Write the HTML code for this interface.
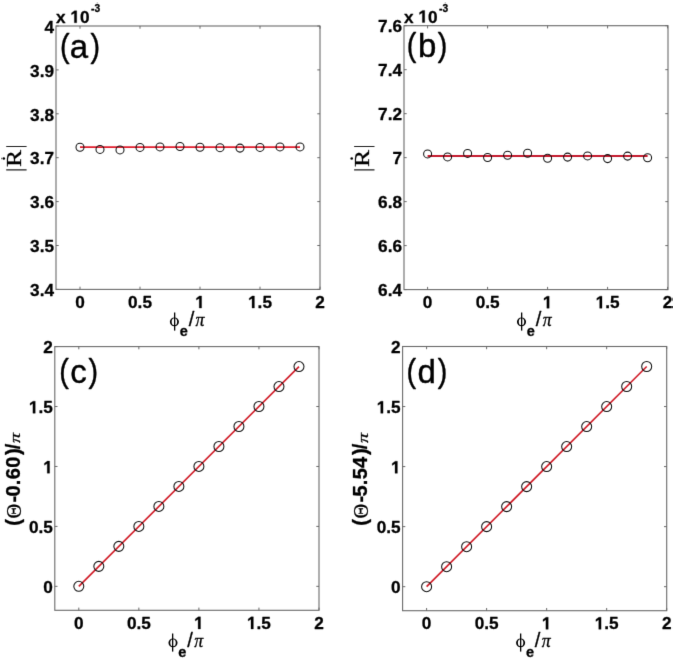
<!DOCTYPE html>
<html><head><meta charset="utf-8"><style>
html,body{margin:0;padding:0;background:#fff;}
svg{display:block;will-change:transform;}
text{fill:#000;stroke:#000;stroke-width:0.3px;stroke-linejoin:round;}
path.g{stroke:#000;stroke-width:0.3px;vector-effect:non-scaling-stroke;}
.t{font-family:"Liberation Sans",sans-serif;font-size:17.6px;font-weight:bold;}
.sup{font-size:11px;font-weight:bold;}
.pl{stroke-width:0.4px;}
</style></head><body>
<svg width="675" height="662" viewBox="0 0 675 662">
<defs><filter id="bl" x="0" y="0" width="100%" height="100%" color-interpolation-filters="sRGB"><feConvolveMatrix order="3" kernelMatrix="0 1 0 1 8 1 0 1 0" divisor="12" edgeMode="duplicate"/></filter></defs>
<rect width="675" height="662" fill="#fff"/>
<g filter="url(#bl)">
<rect x="56" y="26" width="264" height="263.4" fill="none" stroke="#6a6a6a" stroke-width="1.1"/>
<path d="M80 289.4v-2.7M80 26v2.7M140 289.4v-2.7M140 26v2.7M200 289.4v-2.7M200 26v2.7M260 289.4v-2.7M260 26v2.7M320 289.4v-2.7M320 26v2.7M56 289.4h2.7M320 289.4h-2.7M56 245.5h2.7M320 245.5h-2.7M56 201.6h2.7M320 201.6h-2.7M56 157.7h2.7M320 157.7h-2.7M56 113.8h2.7M320 113.8h-2.7M56 69.9h2.7M320 69.9h-2.7M56 26h2.7M320 26h-2.7" stroke="#6a6a6a" stroke-width="1" fill="none"/>
<line x1="80" y1="147.1" x2="300" y2="147.1" stroke="#e01c2c" stroke-width="1.8"/>
<circle cx="80" cy="147.2" r="4.0" fill="none" stroke="#111" stroke-width="1.05"/>
<circle cx="100" cy="149.4" r="4.0" fill="none" stroke="#111" stroke-width="1.05"/>
<circle cx="120" cy="149.9" r="4.0" fill="none" stroke="#111" stroke-width="1.05"/>
<circle cx="140" cy="147.4" r="4.0" fill="none" stroke="#111" stroke-width="1.05"/>
<circle cx="160" cy="146.9" r="4.0" fill="none" stroke="#111" stroke-width="1.05"/>
<circle cx="180" cy="146.5" r="4.0" fill="none" stroke="#111" stroke-width="1.05"/>
<circle cx="200" cy="147.3" r="4.0" fill="none" stroke="#111" stroke-width="1.05"/>
<circle cx="220" cy="147.65" r="4.0" fill="none" stroke="#111" stroke-width="1.05"/>
<circle cx="240" cy="148.1" r="4.0" fill="none" stroke="#111" stroke-width="1.05"/>
<circle cx="260" cy="147.4" r="4.0" fill="none" stroke="#111" stroke-width="1.05"/>
<circle cx="280" cy="146.9" r="4.0" fill="none" stroke="#111" stroke-width="1.05"/>
<circle cx="300" cy="146.9" r="4.0" fill="none" stroke="#111" stroke-width="1.05"/>
<text x="75.22" y="308.05" style="font-family:Liberation Sans;font-size:17.2px;font-weight:bold;">0</text>
<text x="128.04 137.61 142.39" y="308.05" style="font-family:Liberation Sans;font-size:17.2px;font-weight:bold;">0.5</text>
<path class="g" d="M478 0V1150L140 945V1180L500 1440H759V0Z" transform="translate(195.22,308.05) scale(0.00840,-0.00840)"/>
<text x="257.61 262.39" y="308.05" style="font-family:Liberation Sans;font-size:17.2px;font-weight:bold;">.5</text><path class="g" d="M478 0V1150L140 945V1180L500 1440H759V0Z" transform="translate(248.04,308.05) scale(0.00840,-0.00840)"/>
<text x="315.22" y="308.05" style="font-family:Liberation Sans;font-size:17.2px;font-weight:bold;">2</text>
<text x="30.09 39.66 44.43" y="296.15" style="font-family:Liberation Sans;font-size:17.2px;font-weight:bold;">3.4</text>
<text x="30.09 39.66 44.43" y="252.25" style="font-family:Liberation Sans;font-size:17.2px;font-weight:bold;">3.5</text>
<text x="30.09 39.66 44.43" y="208.35" style="font-family:Liberation Sans;font-size:17.2px;font-weight:bold;">3.6</text>
<text x="30.09 39.66 44.43" y="164.45" style="font-family:Liberation Sans;font-size:17.2px;font-weight:bold;">3.7</text>
<text x="30.09 39.66 44.43" y="120.55" style="font-family:Liberation Sans;font-size:17.2px;font-weight:bold;">3.8</text>
<text x="30.09 39.66 44.43" y="76.65" style="font-family:Liberation Sans;font-size:17.2px;font-weight:bold;">3.9</text>
<text x="44.43" y="32.75" style="font-family:Liberation Sans;font-size:17.2px;font-weight:bold;">4</text>
<text transform="translate(59.96,56.99) scale(0.87,1.0)" style="font-family:Liberation Sans;font-size:33px;" class="pl">(</text>
<text x="69.72" y="57.79" style="font-family:Liberation Sans;font-size:33px;" class="pl">a</text>
<text transform="translate(90.48,56.99) scale(0.87,1.0)" style="font-family:Liberation Sans;font-size:33px;" class="pl">)</text>
<path d="M169.85 321.85a4.55 4.45 0 1 0 9.1 0a4.55 4.45 0 1 0 -9.1 0ZM171.65 321.85a2.75 3.5 0 1 1 5.5 0a2.75 3.5 0 1 1 -5.5 0Z" fill="#000" fill-rule="evenodd"/>
<rect x="174" y="312.5" width="1.3" height="18.1" fill="#000"/>
<text x="179.73" y="335.9" style="font-family:Liberation Sans;font-size:14.5px;font-weight:bold;">e</text>
<text x="188.67" y="325.95" style="font-family:Liberation Sans;font-size:20px;">/</text>
<text x="195.59" y="325.9" style="font-family:Liberation Serif;font-size:17.8px;font-style:italic;">π</text>
<text x="56 79.91" y="22.8" style="font-family:Liberation Sans;font-size:17.2px;font-weight:bold;">x0</text><path class="g" d="M478 0V1150L140 945V1180L500 1440H759V0Z" transform="translate(70.34,22.8) scale(0.00840,-0.00840)"/>
<text x="91.1 94.5" y="12" style="font-family:Liberation Sans;font-size:10.2px;font-weight:bold;">-3</text>
<rect x="404" y="25.7" width="264" height="263.9" fill="none" stroke="#6a6a6a" stroke-width="1.1"/>
<path d="M427.6 289.6v-2.7M427.6 25.7v2.7M487.6 289.6v-2.7M487.6 25.7v2.7M547.6 289.6v-2.7M547.6 25.7v2.7M607.6 289.6v-2.7M607.6 25.7v2.7M667.6 289.6v-2.7M667.6 25.7v2.7M404 289.6h2.7M668 289.6h-2.7M404 245.62h2.7M668 245.62h-2.7M404 201.63h2.7M668 201.63h-2.7M404 157.65h2.7M668 157.65h-2.7M404 113.67h2.7M668 113.67h-2.7M404 69.68h2.7M668 69.68h-2.7M404 25.7h2.7M668 25.7h-2.7" stroke="#6a6a6a" stroke-width="1" fill="none"/>
<line x1="427.6" y1="156" x2="647.6" y2="156" stroke="#c41a2e" stroke-width="1.8"/>
<circle cx="427.6" cy="153.9" r="4.0" fill="none" stroke="#111" stroke-width="1.05"/>
<circle cx="447.6" cy="156.9" r="4.0" fill="none" stroke="#111" stroke-width="1.05"/>
<circle cx="467.6" cy="153.4" r="4.0" fill="none" stroke="#111" stroke-width="1.05"/>
<circle cx="487.6" cy="157.5" r="4.0" fill="none" stroke="#111" stroke-width="1.05"/>
<circle cx="507.6" cy="155.3" r="4.0" fill="none" stroke="#111" stroke-width="1.05"/>
<circle cx="527.6" cy="153.2" r="4.0" fill="none" stroke="#111" stroke-width="1.05"/>
<circle cx="547.6" cy="158.2" r="4.0" fill="none" stroke="#111" stroke-width="1.05"/>
<circle cx="567.6" cy="157.1" r="4.0" fill="none" stroke="#111" stroke-width="1.05"/>
<circle cx="587.6" cy="155.9" r="4.0" fill="none" stroke="#111" stroke-width="1.05"/>
<circle cx="607.6" cy="158.6" r="4.0" fill="none" stroke="#111" stroke-width="1.05"/>
<circle cx="627.6" cy="156.1" r="4.0" fill="none" stroke="#111" stroke-width="1.05"/>
<circle cx="647.6" cy="157.7" r="4.0" fill="none" stroke="#111" stroke-width="1.05"/>
<text x="422.82" y="308.25" style="font-family:Liberation Sans;font-size:17.2px;font-weight:bold;">0</text>
<text x="475.64 485.21 489.99" y="308.25" style="font-family:Liberation Sans;font-size:17.2px;font-weight:bold;">0.5</text>
<path class="g" d="M478 0V1150L140 945V1180L500 1440H759V0Z" transform="translate(542.82,308.25) scale(0.00840,-0.00840)"/>
<text x="605.21 609.99" y="308.25" style="font-family:Liberation Sans;font-size:17.2px;font-weight:bold;">.5</text><path class="g" d="M478 0V1150L140 945V1180L500 1440H759V0Z" transform="translate(595.64,308.25) scale(0.00840,-0.00840)"/>
<text x="662.82" y="308.25" style="font-family:Liberation Sans;font-size:17.2px;font-weight:bold;">2</text>
<text x="378.09 387.66 392.43" y="296.35" style="font-family:Liberation Sans;font-size:17.2px;font-weight:bold;">6.4</text>
<text x="378.09 387.66 392.43" y="252.37" style="font-family:Liberation Sans;font-size:17.2px;font-weight:bold;">6.6</text>
<text x="378.09 387.66 392.43" y="208.38" style="font-family:Liberation Sans;font-size:17.2px;font-weight:bold;">6.8</text>
<text x="392.43" y="164.4" style="font-family:Liberation Sans;font-size:17.2px;font-weight:bold;">7</text>
<text x="378.09 387.66 392.43" y="120.42" style="font-family:Liberation Sans;font-size:17.2px;font-weight:bold;">7.2</text>
<text x="378.09 387.66 392.43" y="76.43" style="font-family:Liberation Sans;font-size:17.2px;font-weight:bold;">7.4</text>
<text x="378.09 387.66 392.43" y="32.45" style="font-family:Liberation Sans;font-size:17.2px;font-weight:bold;">7.6</text>
<text transform="translate(406.81,56.09) scale(0.87,1.0)" style="font-family:Liberation Sans;font-size:33px;" class="pl">(</text>
<text x="418" y="56.89" style="font-family:Liberation Sans;font-size:33px;" class="pl">b</text>
<text transform="translate(437.83,56.09) scale(0.87,1.0)" style="font-family:Liberation Sans;font-size:33px;" class="pl">)</text>
<path d="M516.95 321.85a4.55 4.45 0 1 0 9.1 0a4.55 4.45 0 1 0 -9.1 0ZM518.75 321.85a2.75 3.5 0 1 1 5.5 0a2.75 3.5 0 1 1 -5.5 0Z" fill="#000" fill-rule="evenodd"/>
<rect x="521" y="312.5" width="1.3" height="18.1" fill="#000"/>
<text x="526.83" y="335.9" style="font-family:Liberation Sans;font-size:14.5px;font-weight:bold;">e</text>
<text x="535.77" y="325.95" style="font-family:Liberation Sans;font-size:20px;">/</text>
<text x="542.69" y="325.9" style="font-family:Liberation Serif;font-size:17.8px;font-style:italic;">π</text>
<text x="404 427.91" y="22.5" style="font-family:Liberation Sans;font-size:17.2px;font-weight:bold;">x0</text><path class="g" d="M478 0V1150L140 945V1180L500 1440H759V0Z" transform="translate(418.34,22.5) scale(0.00840,-0.00840)"/>
<text x="439.1 442.5" y="11.7" style="font-family:Liberation Sans;font-size:10.2px;font-weight:bold;">-3</text>
<rect x="54.8" y="346.6" width="264.2" height="263.7" fill="none" stroke="#6a6a6a" stroke-width="1.1"/>
<path d="M78.8 610.3v-2.7M78.8 346.6v2.7M138.85 610.3v-2.7M138.85 346.6v2.7M198.9 610.3v-2.7M198.9 346.6v2.7M258.95 610.3v-2.7M258.95 346.6v2.7M319 610.3v-2.7M319 346.6v2.7M54.8 586.33h2.7M319 586.33h-2.7M54.8 526.4h2.7M319 526.4h-2.7M54.8 466.46h2.7M319 466.46h-2.7M54.8 406.53h2.7M319 406.53h-2.7M54.8 346.6h2.7M319 346.6h-2.7" stroke="#6a6a6a" stroke-width="1" fill="none"/>
<line x1="78.8" y1="586.33" x2="298.98" y2="366.58" stroke="#d01a26" stroke-width="1.6"/>
<circle cx="78.8" cy="586.33" r="5.0" fill="none" stroke="#111" stroke-width="1.05"/>
<circle cx="98.82" cy="566.35" r="5.0" fill="none" stroke="#111" stroke-width="1.05"/>
<circle cx="118.83" cy="546.37" r="5.0" fill="none" stroke="#111" stroke-width="1.05"/>
<circle cx="138.85" cy="526.4" r="5.0" fill="none" stroke="#111" stroke-width="1.05"/>
<circle cx="158.87" cy="506.42" r="5.0" fill="none" stroke="#111" stroke-width="1.05"/>
<circle cx="178.88" cy="486.44" r="5.0" fill="none" stroke="#111" stroke-width="1.05"/>
<circle cx="198.9" cy="466.46" r="5.0" fill="none" stroke="#111" stroke-width="1.05"/>
<circle cx="218.92" cy="446.49" r="5.0" fill="none" stroke="#111" stroke-width="1.05"/>
<circle cx="238.93" cy="426.51" r="5.0" fill="none" stroke="#111" stroke-width="1.05"/>
<circle cx="258.95" cy="406.53" r="5.0" fill="none" stroke="#111" stroke-width="1.05"/>
<circle cx="278.97" cy="386.55" r="5.0" fill="none" stroke="#111" stroke-width="1.05"/>
<circle cx="298.98" cy="366.58" r="5.0" fill="none" stroke="#111" stroke-width="1.05"/>
<text x="74.02" y="628.95" style="font-family:Liberation Sans;font-size:17.2px;font-weight:bold;">0</text>
<text x="126.89 136.46 141.24" y="628.95" style="font-family:Liberation Sans;font-size:17.2px;font-weight:bold;">0.5</text>
<path class="g" d="M478 0V1150L140 945V1180L500 1440H759V0Z" transform="translate(194.12,628.95) scale(0.00840,-0.00840)"/>
<text x="256.56 261.34" y="628.95" style="font-family:Liberation Sans;font-size:17.2px;font-weight:bold;">.5</text><path class="g" d="M478 0V1150L140 945V1180L500 1440H759V0Z" transform="translate(246.99,628.95) scale(0.00840,-0.00840)"/>
<text x="314.22" y="628.95" style="font-family:Liberation Sans;font-size:17.2px;font-weight:bold;">2</text>
<text x="43.23" y="593.08" style="font-family:Liberation Sans;font-size:17.2px;font-weight:bold;">0</text>
<text x="28.89 38.46 43.23" y="533.15" style="font-family:Liberation Sans;font-size:17.2px;font-weight:bold;">0.5</text>
<path class="g" d="M478 0V1150L140 945V1180L500 1440H759V0Z" transform="translate(43.23,473.21) scale(0.00840,-0.00840)"/>
<text x="38.46 43.23" y="413.28" style="font-family:Liberation Sans;font-size:17.2px;font-weight:bold;">.5</text><path class="g" d="M478 0V1150L140 945V1180L500 1440H759V0Z" transform="translate(28.89,413.28) scale(0.00840,-0.00840)"/>
<text x="43.23" y="353.35" style="font-family:Liberation Sans;font-size:17.2px;font-weight:bold;">2</text>
<text transform="translate(59.21,381.74) scale(0.87,1.0)" style="font-family:Liberation Sans;font-size:33px;" class="pl">(</text>
<text x="70.23" y="382.54" style="font-family:Liberation Sans;font-size:33px;" class="pl">c</text>
<text transform="translate(88.58,381.74) scale(0.87,1.0)" style="font-family:Liberation Sans;font-size:33px;" class="pl">)</text>
<path d="M168.45 642.85a4.55 4.45 0 1 0 9.1 0a4.55 4.45 0 1 0 -9.1 0ZM170.25 642.85a2.75 3.5 0 1 1 5.5 0a2.75 3.5 0 1 1 -5.5 0Z" fill="#000" fill-rule="evenodd"/>
<rect x="172" y="633.5" width="1.3" height="18.1" fill="#000"/>
<text x="178.33" y="656.9" style="font-family:Liberation Sans;font-size:14.5px;font-weight:bold;">e</text>
<text x="187.27" y="646.95" style="font-family:Liberation Sans;font-size:20px;">/</text>
<text x="194.19" y="646.9" style="font-family:Liberation Serif;font-size:17.8px;font-style:italic;">π</text>
<rect x="402.6" y="346.5" width="264.1" height="264.2" fill="none" stroke="#6a6a6a" stroke-width="1.1"/>
<path d="M426.6 610.7v-2.7M426.6 346.5v2.7M486.62 610.7v-2.7M486.62 346.5v2.7M546.65 610.7v-2.7M546.65 346.5v2.7M606.67 610.7v-2.7M606.67 346.5v2.7M666.7 610.7v-2.7M666.7 346.5v2.7M402.6 586.68h2.7M666.7 586.68h-2.7M402.6 526.64h2.7M666.7 526.64h-2.7M402.6 466.59h2.7M666.7 466.59h-2.7M402.6 406.55h2.7M666.7 406.55h-2.7M402.6 346.5h2.7M666.7 346.5h-2.7" stroke="#6a6a6a" stroke-width="1" fill="none"/>
<line x1="426.6" y1="586.68" x2="646.69" y2="366.52" stroke="#d01a26" stroke-width="1.6"/>
<circle cx="426.6" cy="586.68" r="5.0" fill="none" stroke="#111" stroke-width="1.05"/>
<circle cx="446.61" cy="566.67" r="5.0" fill="none" stroke="#111" stroke-width="1.05"/>
<circle cx="466.62" cy="546.65" r="5.0" fill="none" stroke="#111" stroke-width="1.05"/>
<circle cx="486.62" cy="526.64" r="5.0" fill="none" stroke="#111" stroke-width="1.05"/>
<circle cx="506.63" cy="506.62" r="5.0" fill="none" stroke="#111" stroke-width="1.05"/>
<circle cx="526.64" cy="486.61" r="5.0" fill="none" stroke="#111" stroke-width="1.05"/>
<circle cx="546.65" cy="466.59" r="5.0" fill="none" stroke="#111" stroke-width="1.05"/>
<circle cx="566.66" cy="446.58" r="5.0" fill="none" stroke="#111" stroke-width="1.05"/>
<circle cx="586.67" cy="426.56" r="5.0" fill="none" stroke="#111" stroke-width="1.05"/>
<circle cx="606.67" cy="406.55" r="5.0" fill="none" stroke="#111" stroke-width="1.05"/>
<circle cx="626.68" cy="386.53" r="5.0" fill="none" stroke="#111" stroke-width="1.05"/>
<circle cx="646.69" cy="366.52" r="5.0" fill="none" stroke="#111" stroke-width="1.05"/>
<text x="421.82" y="629.35" style="font-family:Liberation Sans;font-size:17.2px;font-weight:bold;">0</text>
<text x="474.67 484.24 489.01" y="629.35" style="font-family:Liberation Sans;font-size:17.2px;font-weight:bold;">0.5</text>
<path class="g" d="M478 0V1150L140 945V1180L500 1440H759V0Z" transform="translate(541.87,629.35) scale(0.00840,-0.00840)"/>
<text x="604.29 609.06" y="629.35" style="font-family:Liberation Sans;font-size:17.2px;font-weight:bold;">.5</text><path class="g" d="M478 0V1150L140 945V1180L500 1440H759V0Z" transform="translate(594.72,629.35) scale(0.00840,-0.00840)"/>
<text x="661.92" y="629.35" style="font-family:Liberation Sans;font-size:17.2px;font-weight:bold;">2</text>
<text x="391.03" y="593.43" style="font-family:Liberation Sans;font-size:17.2px;font-weight:bold;">0</text>
<text x="376.69 386.26 391.03" y="533.39" style="font-family:Liberation Sans;font-size:17.2px;font-weight:bold;">0.5</text>
<path class="g" d="M478 0V1150L140 945V1180L500 1440H759V0Z" transform="translate(391.03,473.34) scale(0.00840,-0.00840)"/>
<text x="386.26 391.03" y="413.3" style="font-family:Liberation Sans;font-size:17.2px;font-weight:bold;">.5</text><path class="g" d="M478 0V1150L140 945V1180L500 1440H759V0Z" transform="translate(376.69,413.3) scale(0.00840,-0.00840)"/>
<text x="391.03" y="353.25" style="font-family:Liberation Sans;font-size:17.2px;font-weight:bold;">2</text>
<text transform="translate(406.61,381.99) scale(0.87,1.0)" style="font-family:Liberation Sans;font-size:33px;" class="pl">(</text>
<text x="417.39" y="382.79" style="font-family:Liberation Sans;font-size:33px;" class="pl">d</text>
<text transform="translate(437.83,381.99) scale(0.87,1.0)" style="font-family:Liberation Sans;font-size:33px;" class="pl">)</text>
<path d="M516.05 642.85a4.55 4.45 0 1 0 9.1 0a4.55 4.45 0 1 0 -9.1 0ZM517.85 642.85a2.75 3.5 0 1 1 5.5 0a2.75 3.5 0 1 1 -5.5 0Z" fill="#000" fill-rule="evenodd"/>
<rect x="520" y="633.5" width="1.3" height="18.1" fill="#000"/>
<text x="525.93" y="656.9" style="font-family:Liberation Sans;font-size:14.5px;font-weight:bold;">e</text>
<text x="534.87" y="646.95" style="font-family:Liberation Sans;font-size:20px;">/</text>
<text x="541.79" y="646.9" style="font-family:Liberation Serif;font-size:17.8px;font-style:italic;">π</text>
<path d="M6.2 146.5H26.6M6.2 169.9H26.6" stroke="#222" stroke-width="1.1"/>
<g transform="translate(21.3,158) rotate(-90)"><text transform="translate(-8.89,0) scale(1.22,1)" style="font-family:Liberation Serif;font-size:21.0px" stroke="#000" stroke-width="0.35">R</text></g>
<circle cx="3.8" cy="158.5" r="1.3" fill="#000"/>
<path d="M354.1 146.5H374.5M354.1 169.9H374.5" stroke="#222" stroke-width="1.1"/>
<g transform="translate(369.2,158) rotate(-90)"><text transform="translate(-8.89,0) scale(1.22,1)" style="font-family:Liberation Serif;font-size:21.0px" stroke="#000" stroke-width="0.35">R</text></g>
<circle cx="351.7" cy="158.5" r="1.3" fill="#000"/>
<g transform="translate(19.8,525) rotate(-90)"><text x="-0.87" y="0" style="font-family:Liberation Sans;font-size:20px;font-weight:bold;">(</text><text x="6.45" y="1.2" style="font-family:Liberation Serif;font-size:20.5px;">Θ</text><text x="22.48" y="0" style="font-family:Liberation Sans;font-size:20px;font-weight:bold;">-</text><text x="28.55" y="0" style="font-family:Liberation Sans;font-size:20px;font-weight:bold;">0</text><text x="39.88" y="0" style="font-family:Liberation Sans;font-size:20px;font-weight:bold;">.</text><text x="45.88" y="0" style="font-family:Liberation Sans;font-size:20px;font-weight:bold;">6</text><text x="57.25" y="0" style="font-family:Liberation Sans;font-size:20px;font-weight:bold;">0</text><text x="69.96" y="0" style="font-family:Liberation Sans;font-size:20px;font-weight:bold;">)</text><text x="75.82" y="0" style="font-family:Liberation Sans;font-size:20px;font-weight:bold;">/</text><text transform="translate(81.92,0.6) scale(1.3,1.0)" style="font-family:Liberation Serif;font-size:15.5px;font-style:italic;">π</text></g>
<g transform="translate(367.2,525) rotate(-90)"><text x="-0.87" y="0" style="font-family:Liberation Sans;font-size:20px;font-weight:bold;">(</text><text x="6.45" y="1.2" style="font-family:Liberation Serif;font-size:20.5px;">Θ</text><text x="22.48" y="0" style="font-family:Liberation Sans;font-size:20px;font-weight:bold;">-</text><text x="28.51" y="0" style="font-family:Liberation Sans;font-size:20px;font-weight:bold;">5</text><text x="39.88" y="0" style="font-family:Liberation Sans;font-size:20px;font-weight:bold;">.</text><text x="45.86" y="0" style="font-family:Liberation Sans;font-size:20px;font-weight:bold;">5</text><text x="57.14" y="0" style="font-family:Liberation Sans;font-size:20px;font-weight:bold;">4</text><text x="69.96" y="0" style="font-family:Liberation Sans;font-size:20px;font-weight:bold;">)</text><text x="75.82" y="0" style="font-family:Liberation Sans;font-size:20px;font-weight:bold;">/</text><text transform="translate(81.92,0.6) scale(1.3,1.0)" style="font-family:Liberation Serif;font-size:15.5px;font-style:italic;">π</text></g>
</g>
</svg>
</body></html>
